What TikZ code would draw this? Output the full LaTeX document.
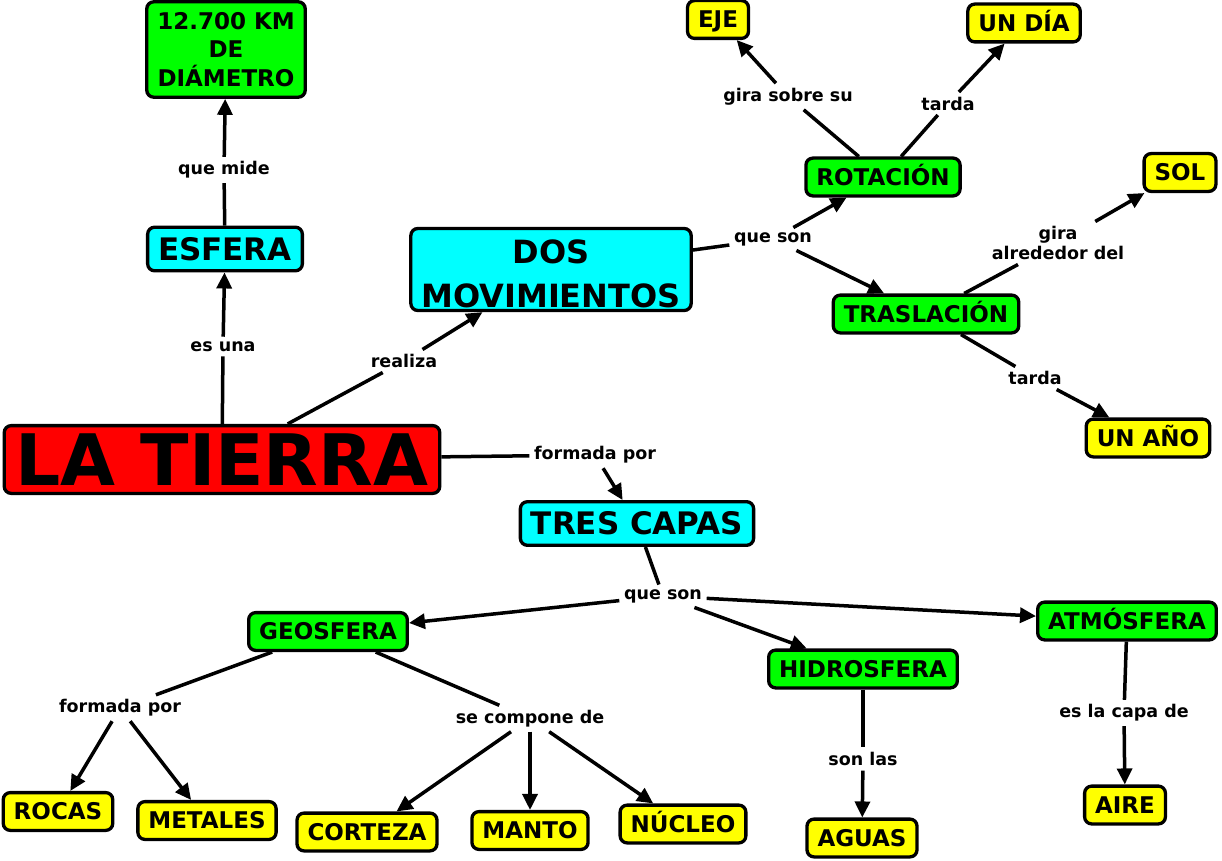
\documentclass[tikz,border=0pt]{standalone}
\usepackage{fontspec}
\setmainfont{DejaVu Sans}
\usepackage{tikz}
\usetikzlibrary{arrows.meta}

\definecolor{cmapred}{RGB}{255,0,0}
\definecolor{cmapcyan}{RGB}{0,255,255}
\definecolor{cmapgreen}{RGB}{0,255,0}
\definecolor{cmapyellow}{RGB}{255,255,0}

\tikzset{
	concept/.style = {draw, rounded corners = 7pt, line width = 3.3pt, inner xsep = 10.5pt, inner ysep = 10.5pt, align = center},
	mainbox/.style = {concept, fill = cmapred, font = \fontsize{71}{84}\selectfont\bfseries, text height = 51.8pt, text depth = 0pt, inner xsep = 11.5pt, inner ysep = 8pt},
	bluebox/.style = {concept, fill = cmapcyan, font = \fontsize{31}{38}\selectfont\bfseries, text height = 22.6pt, text depth = 0pt},
	greenbox/.style = {concept, fill = cmapgreen, font = \fontsize{23}{28.5}\selectfont\bfseries, text height = 16.8pt, text depth = 0pt},
	yellowbox/.style = {concept, fill = cmapyellow, font = \fontsize{23}{28.5}\selectfont\bfseries, text height = 16.8pt, text depth = 0pt},
	linklabel/.style = {font = \fontsize{17.5}{20}\selectfont\bfseries, inner sep = 3pt, align = center}
}

\begin{document}
\begin{tikzpicture}[
				x = 1pt, y = -1pt,
				line width = 3.5pt,
				> = {Triangle[length = 16pt, width = 15pt]}
			]

			\useasboundingbox (0,0) rectangle (1222,861);

			\node[mainbox] (tierra) at (222,459.5) {LA TIERRA};
			\node[bluebox] (esfera) at (225,249) {ESFERA};
			\node[concept, fill = cmapgreen, font = \fontsize{23}{28.5}\selectfont\bfseries] (diametro) at (226,49.5) {12.700 KM\\DE\\DIÁMETRO};
			\node[concept, fill = cmapcyan, font = \fontsize{32}{44}\selectfont\bfseries, text height = 75pt, text depth = 0pt, inner ysep = 3.5pt] (movimientos) at (551,269.5) {DOS\\MOVIMIENTOS};
			\node[bluebox] (capas) at (637,523.5) {TRES CAPAS};

			\node[greenbox] (rotacion) at (883,177) {ROTACIÓN};
			\node[greenbox] (traslacion) at (926,314) {TRASLACIÓN};
			\node[yellowbox] (eje) at (718,19.5) {EJE};
			\node[yellowbox] (dia) at (1024,23) {UN DÍA};
			\node[yellowbox] (sol) at (1180,172.5) {SOL};
			\node[yellowbox] (anio) at (1148,438) {UN AÑO};

			\node[greenbox] (geosfera) at (328,631.5) {GEOSFERA};
			\node[greenbox] (hidrosfera) at (863,669) {HIDROSFERA};
			\node[greenbox] (atmosfera) at (1127,621) {ATMÓSFERA};
			\node[yellowbox] (rocas) at (58,811.5) {ROCAS};
			\node[yellowbox] (metales) at (207,820.5) {METALES};
			\node[yellowbox] (corteza) at (367,832) {CORTEZA};
			\node[yellowbox] (manto) at (530,830.5) {MANTO};
			\node[yellowbox] (nucleo) at (683,824) {NÚCLEO};
			\node[yellowbox] (aguas) at (862,838) {AGUAS};
			\node[yellowbox] (aire) at (1125,805) {AIRE};

			\node[linklabel] (esuna) at (223,346.5) {es una};
			\node[linklabel] (quemide) at (224,170) {que mide};
			\node[linklabel] (realiza) at (404,361) {realiza};
			\node[linklabel] (formadatierra) at (595,455) {formada por};
			\node[linklabel] (queson) at (773,239) {que son};
			\node[linklabel] (girasobre) at (788,96.5) {gira sobre su};
			\node[linklabel] (tardarot) at (948,103.5) {tarda};
			\node[linklabel] (giraalrededor) at (1058,243) {gira\\alrededor del};
			\node[linklabel] (tardatras) at (1035,378) {tarda};
			\node[linklabel] (quesoncapas) at (663,596) {que son};
			\node[linklabel] (formadageo) at (120,708) {formada por};
			\node[linklabel] (compone) at (530,718.5) {se compone de};
			\node[linklabel] (sonlas) at (863,759) {son las};
			\node[linklabel] (capade) at (1124,713) {es la capa de};

			\draw (tierra) -- (esuna);
			\draw[->] (esuna) -- (esfera);
			\draw (esfera) -- (quemide);
			\draw[->] (quemide) -- (diametro);
			\draw (tierra) -- (realiza);
			\draw[->] (realiza) -- (movimientos);
			\draw (tierra) -- (formadatierra);
			\draw[->] (formadatierra) -- (capas);

			\draw (movimientos) -- (queson);
			\draw[->] (queson) -- (rotacion);
			\draw[->] (queson) -- (traslacion);
			\draw (rotacion) -- (girasobre);
			\draw[->] (girasobre) -- (eje);
			\draw (rotacion) -- (tardarot);
			\draw[->] (tardarot) -- (dia);
			\draw (traslacion) -- (giraalrededor);
			\draw[->] (giraalrededor) -- (sol);
			\draw (traslacion) -- (tardatras);
			\draw[->] (tardatras) -- (anio);

			\draw (capas) -- (quesoncapas);
			\draw[->] (quesoncapas) -- (geosfera);
			\draw[->] (quesoncapas) -- (hidrosfera);
			\draw[->] (quesoncapas) -- (atmosfera);
			\draw (geosfera) -- (formadageo);
			\draw[->] (formadageo) -- (rocas);
			\draw[->] (formadageo) -- (metales);
			\draw (geosfera) -- (compone);
			\draw[->] (compone) -- (corteza);
			\draw[->] (compone) -- (manto);
			\draw[->] (compone) -- (nucleo);
			\draw (hidrosfera) -- (sonlas);
			\draw[->] (sonlas) -- (aguas);
			\draw (atmosfera) -- (capade);
			\draw[->] (capade) -- (aire);

			\end{tikzpicture}
\end{document}
